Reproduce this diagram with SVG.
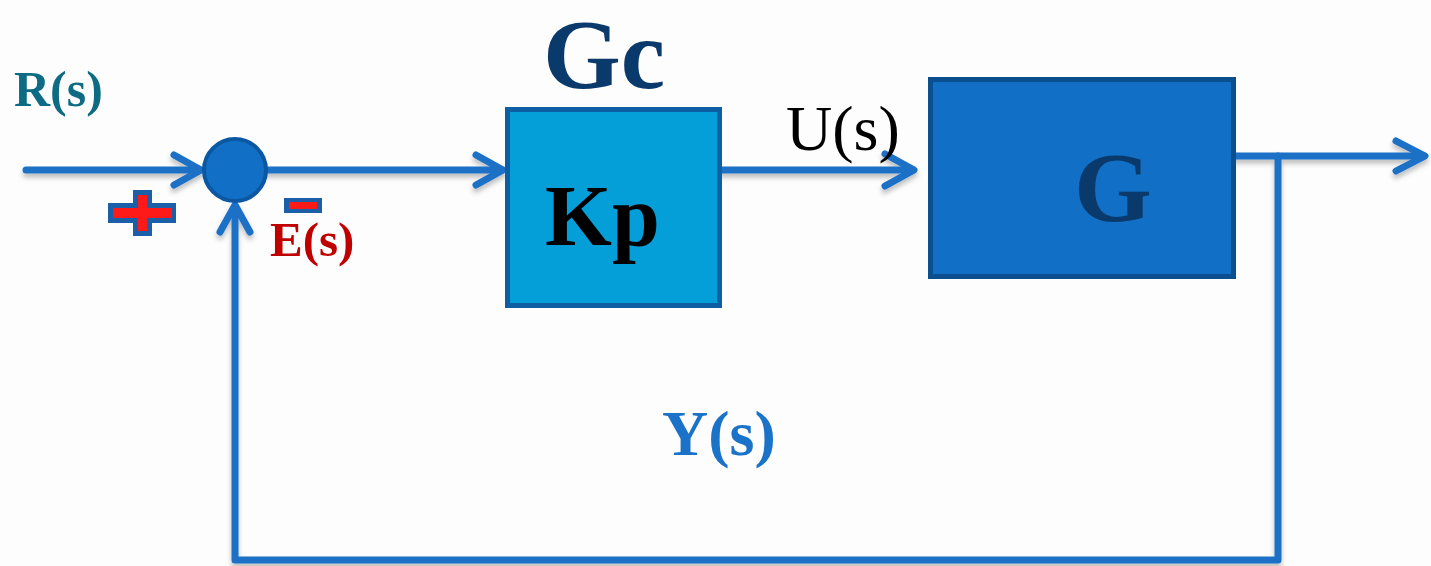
<svg xmlns="http://www.w3.org/2000/svg" width="1431" height="566" viewBox="0 0 1431 566">
<defs>
<style>
.ln{fill:none;stroke:#1a70c6;stroke-width:7;stroke-linecap:round;stroke-linejoin:round}
.ah{fill:none;stroke:#1a70c6;stroke-width:7;stroke-linecap:round;stroke-linejoin:round}
.t{font-family:"Liberation Serif",serif;font-weight:bold}
</style>
<filter id="sh" x="-10%" y="-10%" width="120%" height="130%">
<feDropShadow dx="0" dy="4" stdDeviation="2.5" flood-color="#000" flood-opacity="0.25"/>
</filter>
</defs>
<rect width="1431" height="566" fill="#fdfdfd"/>
<g id="connectors" filter="url(#sh)">
<line class="ln" x1="26" y1="170" x2="200" y2="170"/>
<polyline class="ah" points="174,155 201,170 174,185"/>
<line class="ln" x1="235" y1="170" x2="502" y2="170"/>
<polyline class="ah" points="476,155 503,170 476,185"/>
<line class="ln" x1="721" y1="170" x2="913" y2="170"/>
<polyline class="ah" points="885,154 914,170 885,186"/>
<line class="ln" x1="1235" y1="156" x2="1424" y2="156"/>
<polyline class="ah" points="1396,141 1425,156 1396,171"/>
<polyline class="ln" points="1278,156 1278,560 235,560 235,206"/>
<polyline class="ah" points="220,232 235,205 250,232"/>
</g>
<g id="sum">
<circle cx="235" cy="170" r="31" fill="#1170c6" stroke="#0b57a2" stroke-width="4"/>
</g>
<g id="plus">
<path d="M133,190 h19 v13 h24 v20 h-24 v13 h-19 v-13 h-25 v-20 h25 z" fill="#1a5fa8"/>
<path d="M138,195 h9 v13 h25 v10 h-25 v13 h-9 v-13 h-25 v-10 h25 z" fill="#ff1a1a"/>
</g>
<g id="minus">
<rect x="284" y="198" width="38" height="15" fill="#1a5fa8"/>
<rect x="289" y="202" width="28" height="7" fill="#ff1a1a"/>
</g>
<g id="kp">
<rect x="507.5" y="109.5" width="212" height="196" fill="#049ed9" stroke="#0d5ea3" stroke-width="5"/>
<text class="t" x="545" y="245" font-size="86" fill="#000">Kp</text>
</g>
<g id="g">
<rect x="930.5" y="79.5" width="303" height="197" fill="#116fc5" stroke="#0b4f8f" stroke-width="5"/>
<text class="t" x="1074" y="221" font-size="100" fill="#0a3a6b">G</text>
</g>
<g id="labels">
<text class="t" x="14" y="106" font-size="50" fill="#0e6b84">R(s)</text>
<text class="t" x="543" y="88" font-size="100" fill="#0a3a6b">Gc</text>
<text x="786" y="150" font-family="Liberation Serif,serif" font-size="64" fill="#000">U(s)</text>
<text class="t" x="270" y="256" font-size="49" fill="#c00000">E(s)</text>
<text class="t" x="662" y="455" font-size="64" fill="#1a73c8">Y(s)</text>
</g>
</svg>
